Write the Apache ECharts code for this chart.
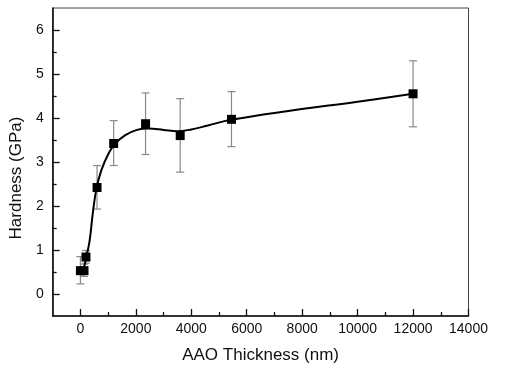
<!DOCTYPE html>
<html>
<head>
<meta charset="utf-8">
<script src="https://cdn.jsdelivr.net/npm/echarts@6/dist/echarts.min.js"></script>
<style>
html,body{margin:0;padding:0;background:#fff;}
#chart{width:507px;height:369px;}
</style>
</head>
<body>
<div id="chart"></div>
<script>
// Measured points
const thickness = [0, 130, 200, 600, 1200, 2350, 3600, 5450, 12000];
const hardness  = [0.53, 0.53, 0.84, 2.42, 3.42, 3.87, 3.60, 3.97, 4.55];
const errLow    = [0.23, 0.40, 0.70, 1.93, 2.92, 3.17, 2.77, 3.35, 3.80];
const errHigh   = [0.85, 0.68, 0.99, 2.92, 3.94, 4.57, 4.44, 4.60, 5.30];
// Fitted curve
const curveX = [100, 200, 330, 450, 580, 760, 1020, 1260, 1620, 2040, 2450, 3000, 3500, 4000, 4600, 5430, 7500, 10000, 12000];
const curveY = [0.50, 0.80, 1.20, 1.85, 2.40, 2.82, 3.20, 3.42, 3.61, 3.73, 3.76, 3.73, 3.70, 3.74, 3.83, 3.96, 4.16, 4.37, 4.55];
// Axis settings
const xRange = {min: -1000, max: 14000};
const yRange = {min: -0.5, max: 6.5};
const xLabels = [0, 2000, 4000, 6000, 8000, 10000, 12000, 14000];
const xMinor = [1000, 3000, 5000, 7000, 9000, 11000, 13000];
const yLabels = [0, 1, 2, 3, 4, 5, 6];
const yMinor = [0.5, 1.5, 2.5, 3.5, 4.5, 5.5];

const chart = echarts.init(document.getElementById('chart'), null, {renderer: 'canvas'});
const font = 'Liberation Sans, Arial, sans-serif';

const points = thickness.map((x, i) => [x, hardness[i]]);
const errs = thickness.map((x, i) => [x, errLow[i], errHigh[i]]);
const curve = curveX.map((x, i) => [x, curveY[i]]);
const tickStyle = {color: '#111', width: 1.3};

chart.setOption({
  animation: false,
  grid: {left: 52, right: 38.5, top: 8, bottom: 53, show: true, borderColor: '#444', borderWidth: 1},
  xAxis: [{
    type: 'value', min: xRange.min, max: xRange.max,
    name: 'AAO Thickness (nm)', nameLocation: 'middle', nameGap: 31,
    nameTextStyle: {fontFamily: font, fontSize: 17, color: '#111'},
    axisLine: {show: true, onZero: false, lineStyle: {color: '#111', width: 1.6}},
    axisTick: {show: true, inside: true, length: 7, lineStyle: tickStyle, customValues: xLabels},
    axisLabel: {fontFamily: font, fontSize: 14, color: '#111', margin: 6, customValues: xLabels,
      formatter: v => String(v)},
    splitLine: {show: false}
  }, {
    type: 'value', min: xRange.min, max: xRange.max, position: 'bottom',
    axisLine: {show: false, onZero: false},
    axisTick: {show: true, inside: true, length: 4, lineStyle: tickStyle, customValues: xMinor},
    axisLabel: {show: false},
    splitLine: {show: false}
  }],
  yAxis: [{
    type: 'value', min: yRange.min, max: yRange.max,
    name: 'Hardness (GPa)', nameLocation: 'middle', nameGap: 27, nameRotate: 90,
    nameTextStyle: {fontFamily: font, fontSize: 17, color: '#111', padding: [0, 32, 0, 0]},
    axisLine: {show: true, onZero: false, lineStyle: {color: '#111', width: 1.6}},
    axisTick: {show: true, inside: true, length: 7, lineStyle: tickStyle, customValues: yLabels},
    axisLabel: {fontFamily: font, fontSize: 14, color: '#111', margin: 9, customValues: yLabels,
      formatter: v => String(v)},
    splitLine: {show: false}
  }, {
    type: 'value', min: yRange.min, max: yRange.max, position: 'left',
    axisLine: {show: false, onZero: false},
    axisTick: {show: true, inside: true, length: 4, lineStyle: tickStyle, customValues: yMinor},
    axisLabel: {show: false},
    splitLine: {show: false}
  }],
  series: [
    {
      type: 'custom',
      data: errs,
      z: 1,
      renderItem: function (params, api) {
        const x = api.value(0);
        const lo = api.coord([x, api.value(1)]);
        const hi = api.coord([x, api.value(2)]);
        const w = 4;
        const st = {stroke: '#8a8a8a', lineWidth: 1.2};
        return {type: 'group', children: [
          {type: 'line', shape: {x1: lo[0], y1: lo[1], x2: hi[0], y2: hi[1]}, style: st},
          {type: 'line', shape: {x1: lo[0]-w, y1: lo[1], x2: lo[0]+w, y2: lo[1]}, style: st},
          {type: 'line', shape: {x1: hi[0]-w, y1: hi[1], x2: hi[0]+w, y2: hi[1]}, style: st}
        ]};
      }
    },
    {
      type: 'line', data: curve, smooth: 0.4, showSymbol: false, z: 2,
      lineStyle: {color: '#000', width: 2}
    },
    {
      type: 'scatter', data: points, symbol: 'rect', symbolSize: 9, z: 3,
      itemStyle: {color: '#000', opacity: 1}
    }
  ]
});
</script>
</body>
</html>
